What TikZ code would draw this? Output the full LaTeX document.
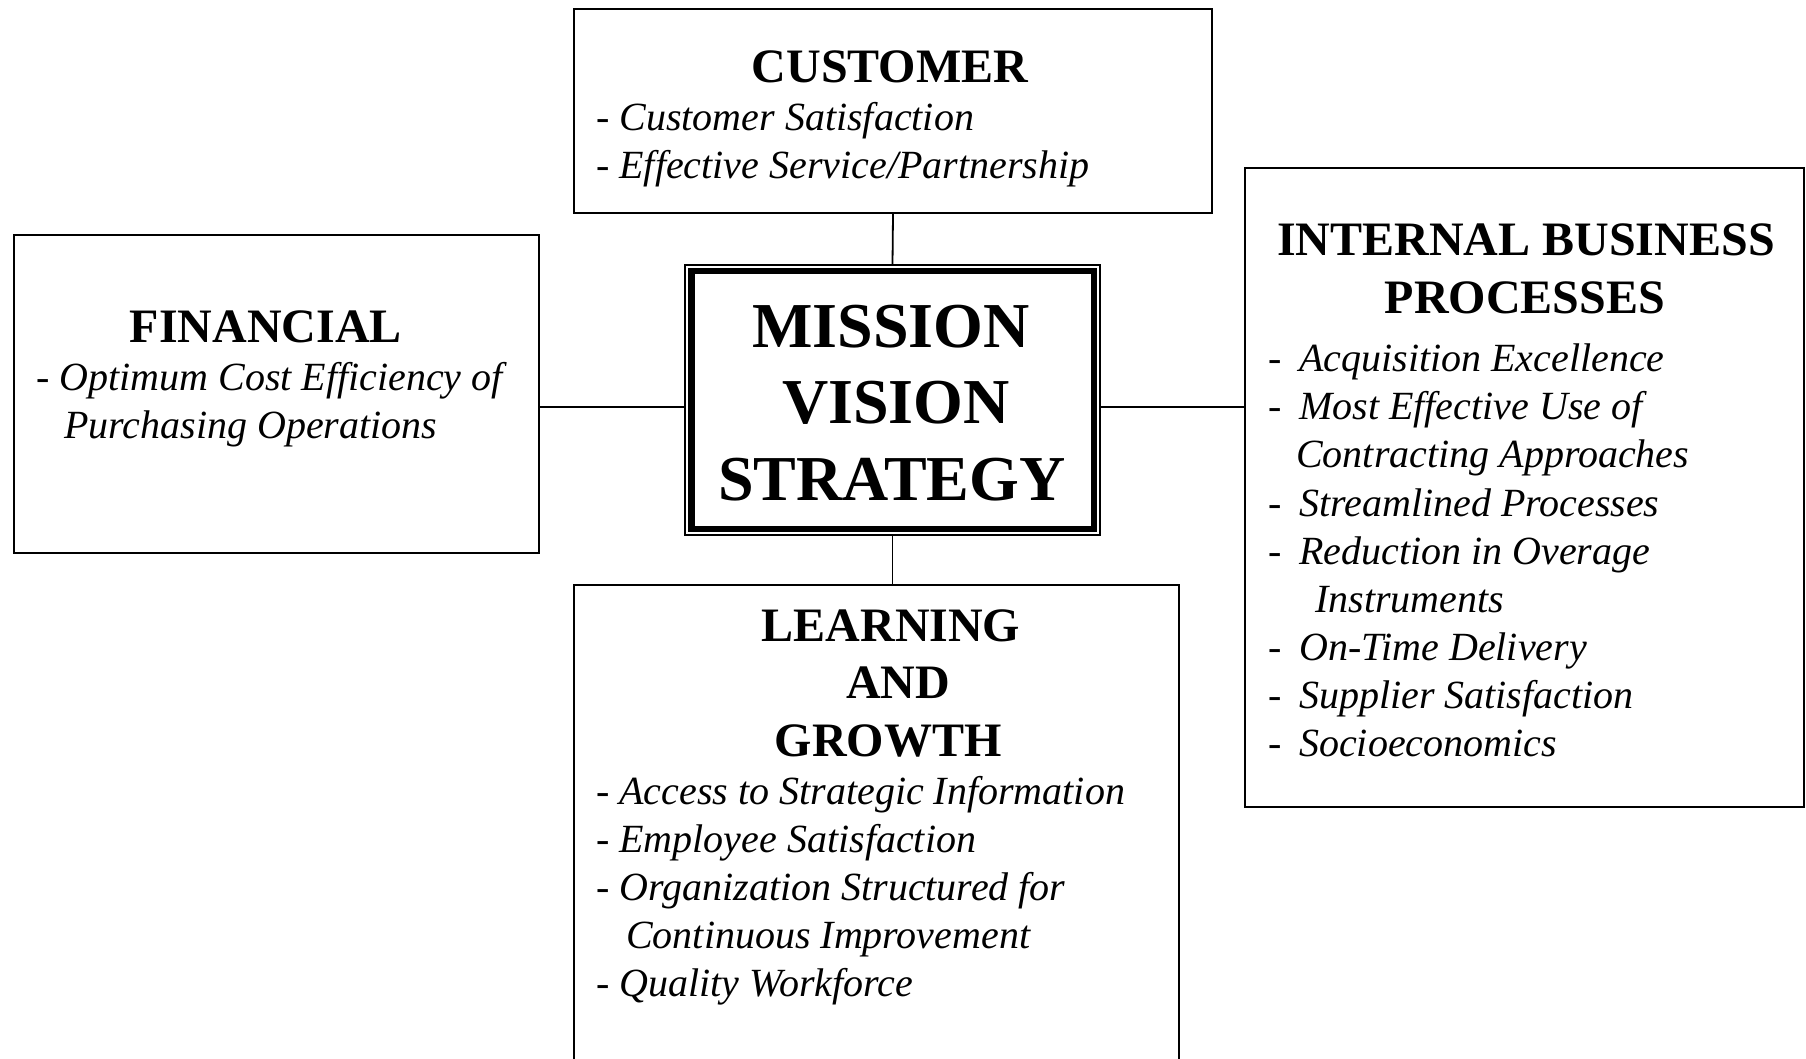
\documentclass[tikz,border=0pt]{standalone}
\usepackage{fontspec}
\setmainfont{Liberation Serif}

\begin{document}
\begin{tikzpicture}[
        x=1pt, y=-1pt,
        box/.style={draw, line width=2pt, inner sep=0pt},
        link/.style={line width=1.8pt},
        core/.style={font=\fontsize{64}{76}\selectfont\bfseries, anchor=base, inner sep=0pt},
        head/.style={font=\fontsize{48}{57}\selectfont\bfseries, anchor=base, inner sep=0pt},
        item/.style={font=\fontsize{40}{48}\selectfont\itshape, anchor=base west, inner sep=0pt}
    ]
        \useasboundingbox[fill=white] (0,0) rectangle (1806,1059);

        % Perspective boxes
        \node[box, minimum width=638pt, minimum height=204pt] (cust) at (893,111) {};
        \node[box, minimum width=525pt, minimum height=318pt] (fin) at (276.5,394) {};
        \node[box, minimum width=559pt, minimum height=639pt] (ibp) at (1524.5,487.5) {};
        \node[box, minimum width=605pt, minimum height=490pt] (lg) at (876.5,830) {};

        % Centre box with double frame
        \node[draw, line width=1.7pt, inner sep=0pt, minimum width=415pt, minimum height=270pt] (mvs) at (892.5,400) {};
        \draw[line width=6.7pt] ([shift={(7,7)}]mvs.north west) rectangle ([shift={(-7,-7)}]mvs.south east);

        \node[core] (mission) at (891,347) {MISSION};
        \node[core] (vision) at (896,423) {VISION};
        \node[core] (strategy) at (892,500) {STRATEGY};

        % Connections
        \coordinate (tie) at (0,407);
        \draw[link] (cust.south) -- (mvs.north);
        \draw[link] (mvs.south) -- (mvs.south |- lg.north);
        \draw[link] (fin.east |- tie) -- (mvs.west |- tie);
        \draw[link] (mvs.east |- tie) -- (ibp.west |- tie);

        % Customer
        \node[head] (custhead) at (890,83) {CUSTOMER};
        \node[item] (cust1) at (596,131) {- Customer Satisfaction};
        \node[item] (cust2) at (596,179) {- Effective Service/Partnership};

        % Financial
        \node[head] (finhead) at (266,342) {FINANCIAL};
        \node[item] (fin1) at (36,390) {- Optimum Cost Efficiency of};
        \node[item] (fin2) at (64,438) {Purchasing Operations};

        % Internal business processes
        \node[head] (ibphead1) at (1526,256) {INTERNAL BUSINESS};
        \node[head] (ibphead2) at (1525,313) {PROCESSES};
        \node[item] (ibp1) at (1268,371) {\makebox[31pt][l]{-}Acquisition Excellence};
        \node[item] (ibp2) at (1268,419) {\makebox[31pt][l]{-}Most Effective Use of};
        \node[item] (ibp2b) at (1296,467) {Contracting Approaches};
        \node[item] (ibp3) at (1268,516) {\makebox[31pt][l]{-}Streamlined Processes};
        \node[item] (ibp4) at (1268,564) {\makebox[31pt][l]{-}Reduction in Overage};
        \node[item] (ibp4b) at (1315,612) {Instruments};
        \node[item] (ibp5) at (1268,660) {\makebox[31pt][l]{-}On-Time Delivery};
        \node[item] (ibp6) at (1268,708) {\makebox[31pt][l]{-}Supplier Satisfaction};
        \node[item] (ibp7) at (1268,756) {\makebox[31pt][l]{-}Socioeconomics};

        % Learning and growth
        \node[head] (lghead1) at (891,641) {LEARNING};
        \node[head] (lghead2) at (898,698) {AND};
        \node[head] (lghead3) at (888,756) {GROWTH};
        \node[item] (lg1) at (596,804) {- Access to Strategic Information};
        \node[item] (lg2) at (596,852) {- Employee Satisfaction};
        \node[item] (lg3) at (596,900) {- Organization Structured for};
        \node[item] (lg3b) at (626,948) {Continuous Improvement};
        \node[item] (lg4) at (596,996) {- Quality Workforce};
    \end{tikzpicture}
\end{document}
